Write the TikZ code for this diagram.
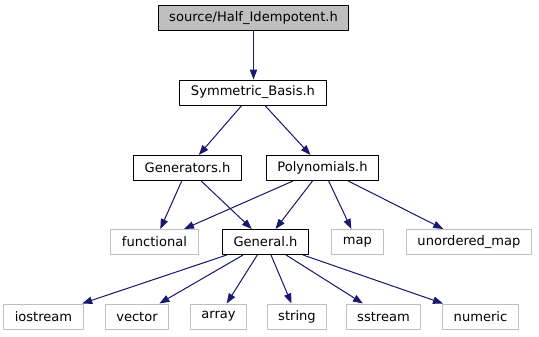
\documentclass[tikz,border=0pt]{standalone}
\usepackage{fontspec}
\setmainfont{DejaVu Sans}
\usetikzlibrary{arrows.meta}
\definecolor{edgeblue}{HTML}{191970}
\definecolor{sysgray}{HTML}{BFBFBF}

\begin{document}
\begin{tikzpicture}[x=0.75pt,y=-0.75pt,>={Triangle[length=7.5pt,width=5.5pt]},line join=round,
  font=\fontsize{9.8}{12}\selectfont,
  file/.style={draw=black,line width=0.75pt,inner xsep=8.3pt,inner ysep=0pt,minimum height=18.75pt},
  sys/.style={file,draw=sysgray},
  dep/.style={->,draw=edgeblue,fill=edgeblue,line width=0.75pt}]
  \useasboundingbox (0,0) rectangle (539,336);

  % headers of the project
  \node[file,fill=sysgray] (half) at (253.5,18) {source/Half\_Idempotent.h};
  \node[file] (symb) at (253,92.5) {Symmetric\_Basis.h};
  \node[file] (gens) at (187.5,168) {Generators.h};
  \node[file] (polys) at (322.5,168) {Polynomials.h};
  \node[file] (general) at (265.5,242) {General.h};

  % standard library
  \node[sys] (functional) at (154.5,242) {functional};
  \node[sys] (map) at (357.5,242) {map};
  \node[sys] (umap) at (469,242) {unordered\_map};
  \node[sys] (iostream) at (43.5,316.5) {iostream};
  \node[sys] (vector) at (137,316.5) {vector};
  \node[sys] (array) at (218.5,316.5) {array};
  \node[sys] (string) at (297,316.5) {string};
  \node[sys] (sstream) at (383.5,316.5) {sstream};
  \node[sys] (numeric) at (480.5,316.5) {numeric};

  % includes
  \draw[dep] (half) -- (half |- symb.north);
  \draw[dep] (symb) -- (gens);
  \draw[dep] (symb) -- (polys);
  \draw[dep] (gens) -- (functional);
  \draw[dep] (gens) -- (general);
  \draw[dep] (polys) -- (functional);
  \draw[dep] (polys) -- (general);
  \draw[dep] (polys) -- (map);
  \draw[dep] (polys) -- (umap);
  \foreach \h in {iostream,vector,array,string,sstream,numeric}
    \draw[dep] (general) -- (\h);
\end{tikzpicture}
\end{document}
